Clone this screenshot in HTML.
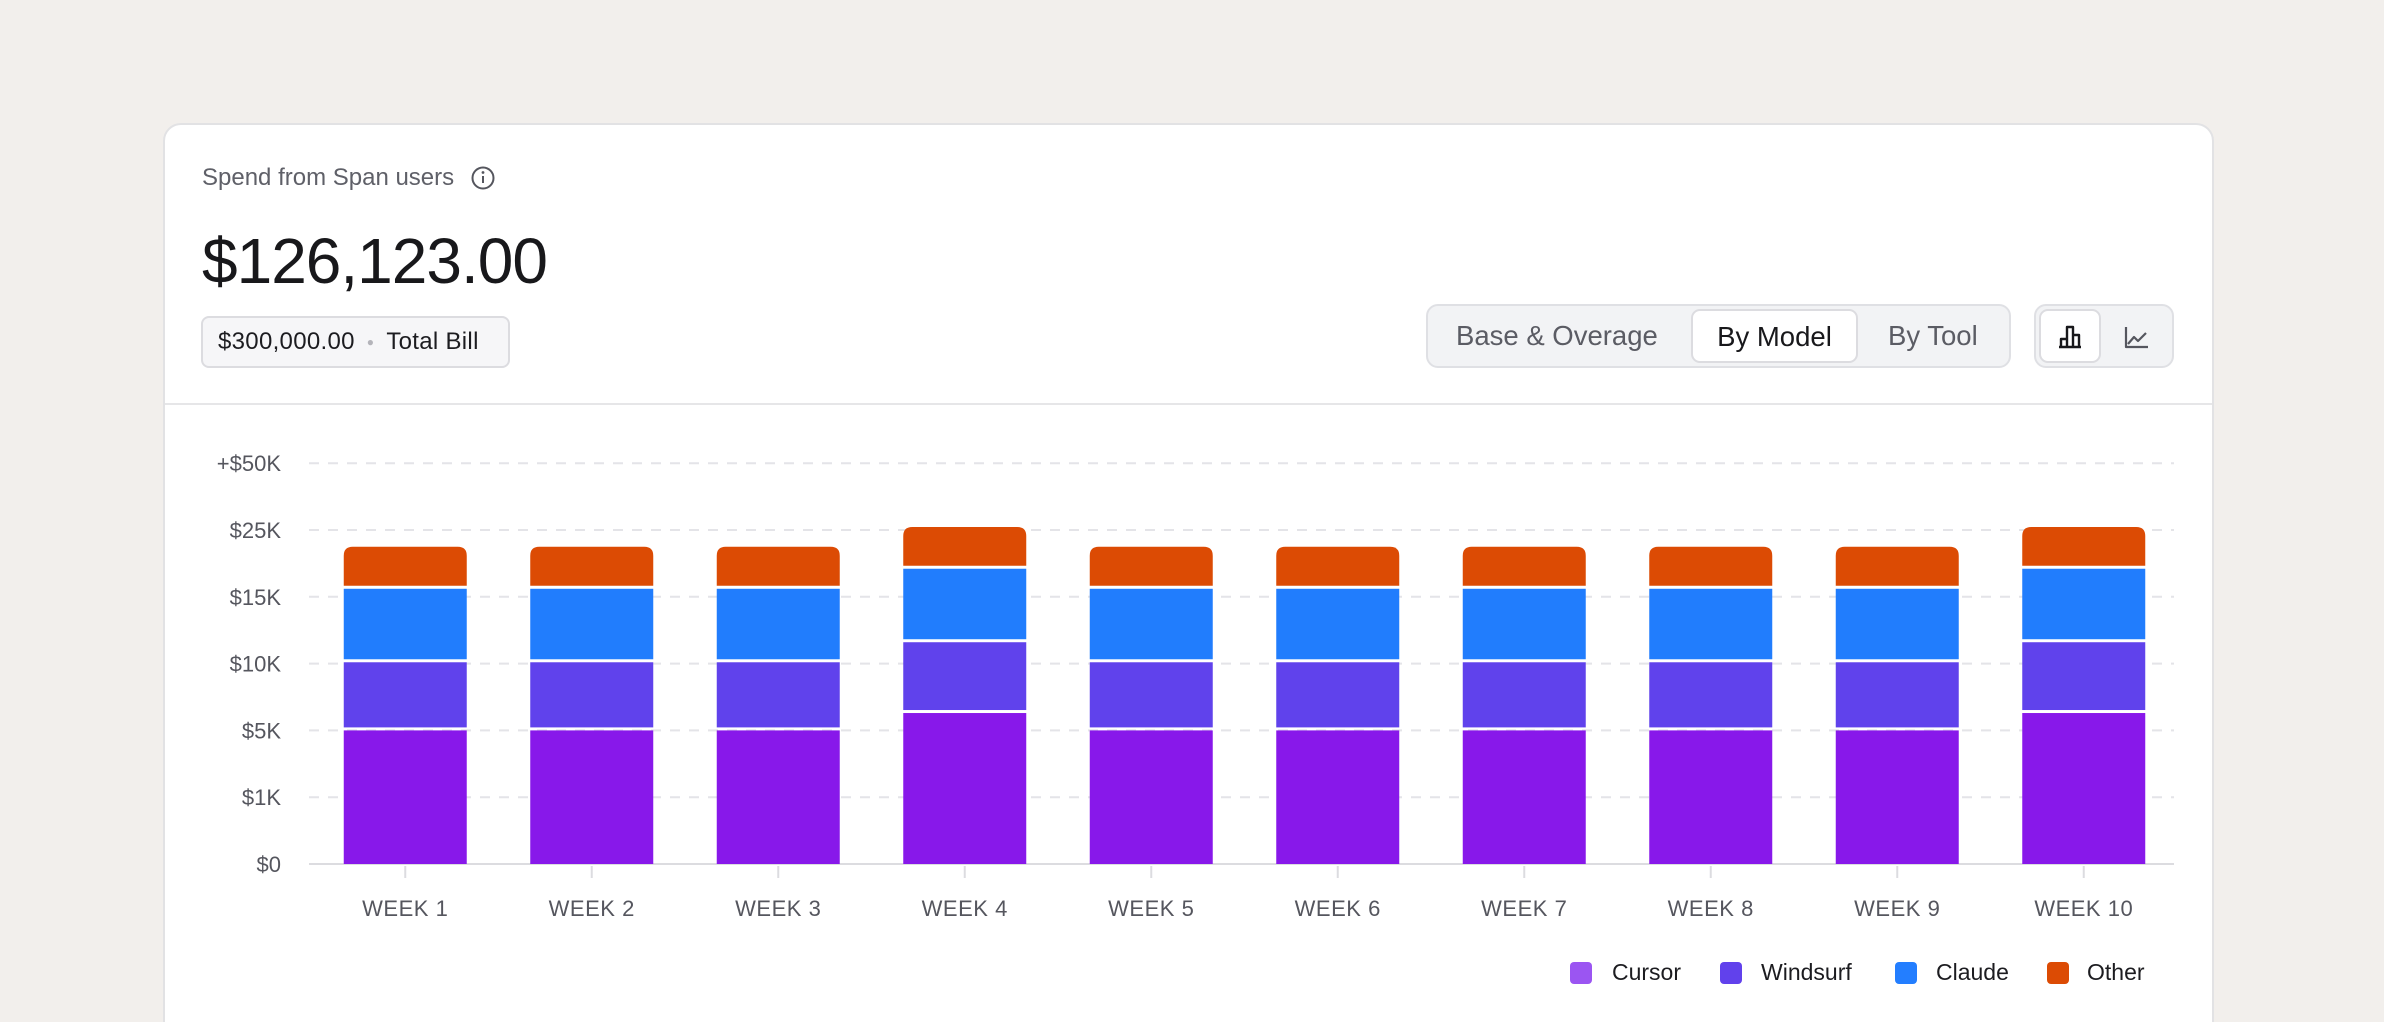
<!DOCTYPE html>
<html><head><meta charset="utf-8">
<style>
*{box-sizing:border-box;margin:0;padding:0}
html{width:2384px;height:1022px;overflow:hidden}
body{width:2384px;height:1022px;background:#f2efec;font-family:"Liberation Sans",sans-serif;position:relative;overflow:hidden}
.card{position:absolute;left:163px;top:123px;width:2051px;height:930px;background:#fff;border:2px solid #e2e2e4;border-radius:18px}
.abs{position:absolute}
</style></head><body>
<div class="card"></div>
<div class="abs" style="left:202px;top:164px;font-size:24px;color:#5f6068">Spend from Span users</div>
<svg class="abs" style="left:470px;top:165px" width="26" height="26"><circle cx="13" cy="13" r="10.5" fill="none" stroke="#55565e" stroke-width="2"/><line x1="13" y1="11" x2="13" y2="18" stroke="#55565e" stroke-width="2"/><circle cx="13" cy="7.5" r="1.4" fill="#55565e"/></svg>
<div class="abs" style="left:202px;top:224px;font-size:64px;color:#18181b;letter-spacing:-1px">$126,123.00</div>
<div class="abs" style="left:201px;top:316px;width:309px;height:52px;border:2px solid #dcdce0;border-radius:8px;background:#f6f6f8;font-size:24px;color:#1c1c20;display:flex;align-items:center;padding-left:15px;letter-spacing:0.3px">$300,000.00<span style="color:#b4b4ba;margin:0 12px;font-size:12px">●</span>Total Bill</div>
<div class="abs" style="top:403px;height:2px;background:#e6e6e8;left:165px;width:2047px"></div>
<div class="abs" style="left:1426px;top:304px;width:585px;height:64px;background:#f2f3f5;border:2px solid #dfe0e4;border-radius:12px"></div>
<div class="abs" style="left:1456px;top:320px;font-size:27.5px;color:#5b5c64">Base &amp; Overage</div>
<div class="abs" style="left:1691px;top:309px;width:167px;height:54px;background:#fff;border:2px solid #dcdce0;border-radius:9px;font-size:27.5px;color:#18181b;text-align:center;line-height:51px">By Model</div>
<div class="abs" style="left:1888px;top:320px;font-size:27.5px;color:#5b5c64">By Tool</div>
<div class="abs" style="left:2034px;top:304px;width:140px;height:64px;background:#f2f3f5;border:2px solid #dfe0e4;border-radius:12px"></div>
<div class="abs" style="left:2039px;top:309px;width:62px;height:54px;background:#fff;border:2px solid #dcdce0;border-radius:9px">
<svg width="58" height="50"><path d="M20 36V28h6v8M26 36V16h6v20M32 36V24h6v12M18 36h22" fill="none" stroke="#18181b" stroke-width="2.4" stroke-linejoin="round"/></svg></div>
<svg class="abs" style="left:2116px;top:317px" width="50" height="40"><path d="M10 10V30h22M12 27l6-7 4 4 8-8" fill="none" stroke="#55565e" stroke-width="2.2" stroke-linejoin="round"/></svg>

<svg class="abs" style="left:0;top:0" width="2384" height="1022" id="chart"></svg>

<div class="abs" style="left:1570px;top:962px;width:22px;height:22px;border-radius:4px;background:#9b55f2"></div>
<div class="abs" style="left:1612px;top:959px;font-size:23px;color:#1c1c20">Cursor</div>
<div class="abs" style="left:1720px;top:962px;width:22px;height:22px;border-radius:4px;background:#6141ec"></div>
<div class="abs" style="left:1761px;top:959px;font-size:23px;color:#1c1c20">Windsurf</div>
<div class="abs" style="left:1895px;top:962px;width:22px;height:22px;border-radius:4px;background:#237eff"></div>
<div class="abs" style="left:1936px;top:959px;font-size:23px;color:#1c1c20">Claude</div>
<div class="abs" style="left:2047px;top:962px;width:22px;height:22px;border-radius:4px;background:#dc4b04"></div>
<div class="abs" style="left:2087px;top:959px;font-size:23px;color:#1c1c20">Other</div>

<script>
const categories=["WEEK 1","WEEK 2","WEEK 3","WEEK 4","WEEK 5","WEEK 6","WEEK 7","WEEK 8","WEEK 9","WEEK 10"];
const cursor=[5000,5000,5000,6300,5000,5000,5000,5000,5000,6300];
const windsurf=[5100,5100,5100,5300,5100,5100,5100,5100,5100,5300];
const claude=[6100,6100,6100,7600,6100,6100,6100,6100,6100,7600];
const other=[6300,6300,6300,6900,6300,6300,6300,6300,6300,6900];
const tickValues=[0,1000,5000,10000,15000,25000,50000];
const tickLabels=["$0","$1K","$5K","$10K","$15K","$25K","+$50K"];
const series=[cursor,windsurf,claude,other];
const colors=["#8818ea","#6042ec","#217dfd","#dc4b04"];
const names=["cursor","windsurf","claude","other"];
const NS="http://www.w3.org/2000/svg";
const svg=document.getElementById('chart');
const X0=309,X1=2174,Y0=864,STEP=66.8;
function y(v){
  for(let i=0;i<tickValues.length-1;i++){
    if(v<=tickValues[i+1]){return Y0-(i+(v-tickValues[i])/(tickValues[i+1]-tickValues[i]))*STEP;}
  }
  return Y0-(tickValues.length-1)*STEP;
}
const band=(X1-X0)/categories.length;
function xc(i){return X0+3+band*(i+0.5);}
function mk(tag,attrs){const e=document.createElementNS(NS,tag);for(const k in attrs)e.setAttribute(k,attrs[k]);svg.appendChild(e);return e;}
tickValues.forEach((v,i)=>{
  const yy=y(v);
  const g=mk('line',{x1:X0,x2:X1,y1:yy,y2:yy,stroke:i===0?'#dcdce0':'#e4e4e8','stroke-width':2,'stroke-dasharray':i===0?'':'10 9'});
  
  
  const t=mk('text',{x:281,y:yy+8,'text-anchor':'end','font-size':22,fill:'#55565e','font-family':'Liberation Sans, sans-serif'});
  t.textContent=tickLabels[i];
  
  
});
const bw=123,r=9;
categories.forEach((c,i)=>{
  const cx=xc(i);
  const tk=mk('line',{x1:cx,x2:cx,y1:Y0+2,y2:Y0+14,stroke:'#dcdce0','stroke-width':2});
  
  
  let cum=0;
  series.forEach((s,k)=>{
    const yb=y(cum);cum+=s[i];const yt=y(cum);
    const bot=k===0?yb:yb-3;
    const x=cx-bw/2;
    let el;
    if(k===series.length-1){
      el=mk('path',{d:`M${x} ${bot}V${yt+r}Q${x} ${yt} ${x+r} ${yt}H${x+bw-r}Q${x+bw} ${yt} ${x+bw} ${yt+r}V${bot}Z`,fill:colors[k]});
    }else{
      el=mk('rect',{x:x,y:yt,width:bw,height:Math.max(0,bot-yt),fill:colors[k]});
    }
    
    
  });
  const t=mk('text',{x:cx,y:916,'text-anchor':'middle','font-size':22,fill:'#55565e','font-family':'Liberation Sans, sans-serif','letter-spacing':'0.5'});
  t.textContent=c;
  
  
});
</script>
</body></html>
